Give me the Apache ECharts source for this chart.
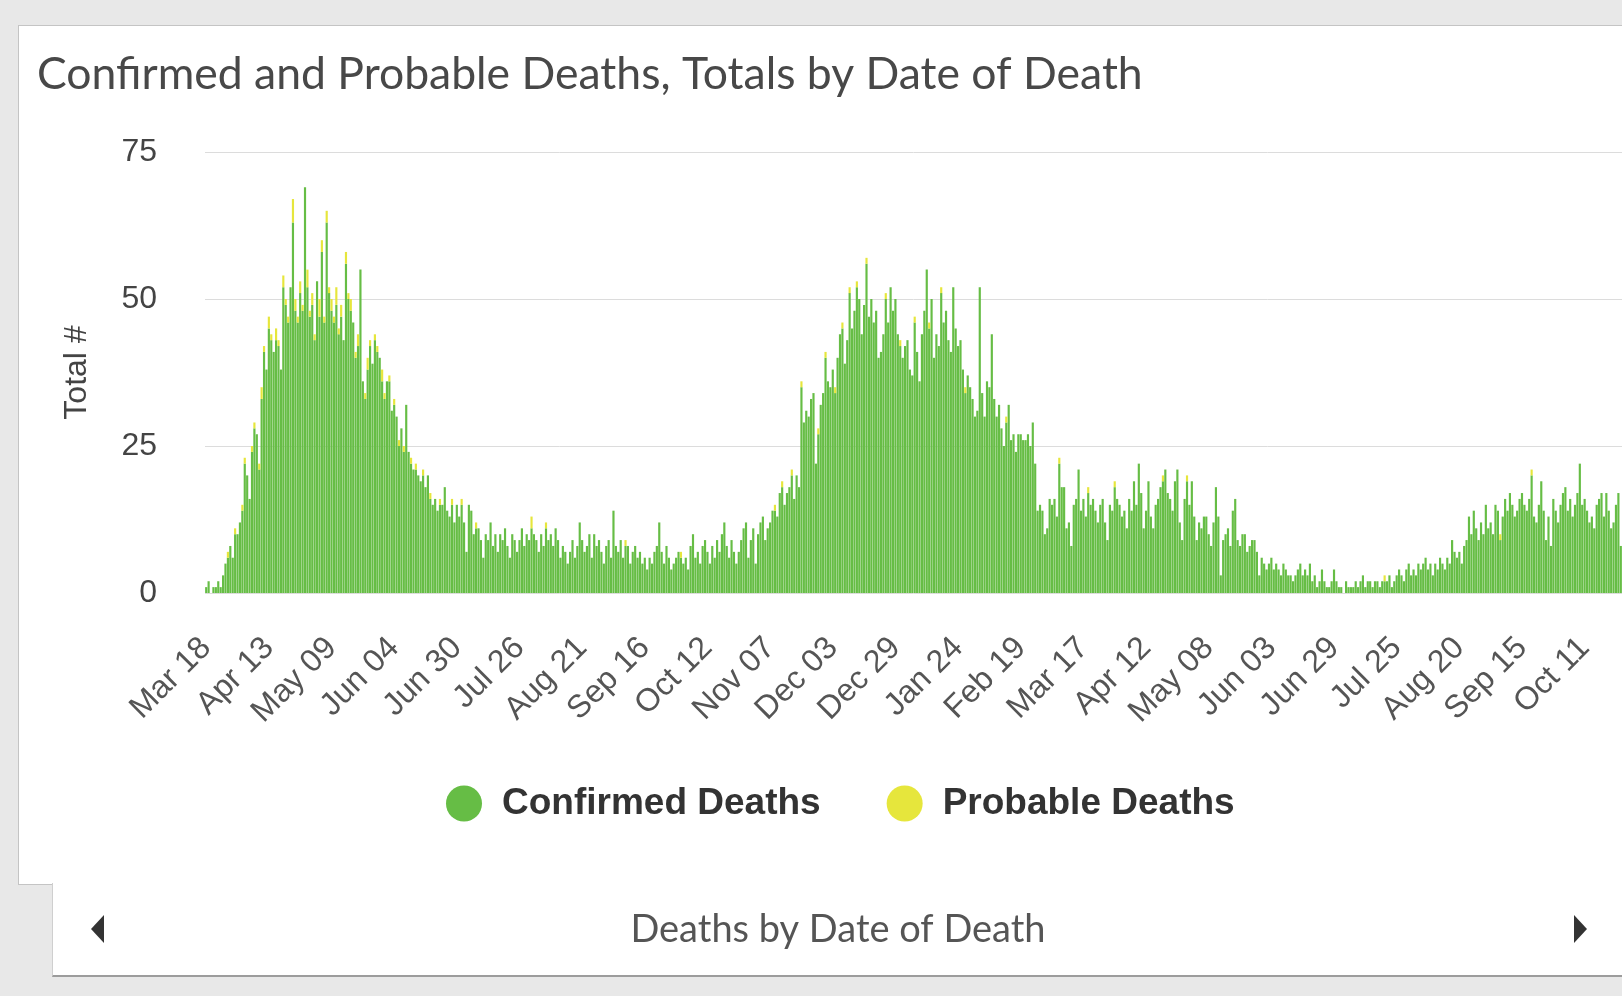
<!DOCTYPE html>
<html>
<head>
<meta charset="utf-8">
<title>Confirmed and Probable Deaths</title>
<script src="https://cdn.jsdelivr.net/npm/echarts@6/dist/echarts.min.js"></script>
<style>
  html, body { margin: 0; padding: 0; width: 1622px; height: 996px; overflow: hidden; background: #e8e8e8; }
  .panel { position: absolute; left: 18px; top: 25px; width: 1700px; height: 858px; background: #fff; border: 1px solid #c4c4c4; }
  .tab { position: absolute; left: 52px; top: 883px; width: 1700px; height: 92px; background: #fff; border-left: 1px solid #cfcfcf; border-bottom: 2px solid #9c9c9c; }
  #chart { position: absolute; left: 0; top: 0; width: 1622px; height: 996px; }
</style>
</head>
<body>
<div class="panel"></div>
<div class="tab"></div>
<div id="chart"></div>
<script>
  // daily counts starting Mar 18 2020, one row per 26 days (one row per axis label)
  const startDate = [2020, 2, 18]
  const confirmed = [
    1, 2, 0, 1, 1, 2, 1, 3, 5, 6, 8, 6, 10, 10, 12, 14, 22, 20, 16, 24, 28, 27, 21, 33, 41, 38,
    45, 43, 41, 43, 42, 38, 52, 49, 46, 52, 63, 48, 46, 51, 48, 69, 52, 47, 49, 43, 53, 47, 58, 46, 63, 51,
    48, 46, 49, 44, 47, 43, 56, 50, 48, 46, 40, 42, 55, 36, 33, 38, 42, 39, 43, 41, 40, 36, 33, 36, 36, 31,
    32, 30, 25, 28, 24, 32, 24, 22, 21, 21, 20, 19, 20, 18, 20, 16, 15, 16, 14, 15, 15, 18, 14, 13, 15, 12,
    15, 13, 15, 12, 7, 15, 14, 10, 11, 11, 9, 6, 10, 9, 12, 8, 10, 7, 10, 9, 11, 8, 6, 10, 9, 7,
    9, 11, 8, 10, 9, 11, 10, 9, 7, 10, 8, 11, 9, 10, 8, 11, 9, 6, 8, 7, 5, 7, 9, 6, 8, 12,
    9, 7, 8, 10, 6, 10, 8, 9, 7, 5, 8, 9, 6, 14, 8, 7, 9, 6, 8, 8, 5, 7, 8, 6, 7, 5,
    6, 4, 6, 5, 7, 8, 12, 7, 5, 8, 6, 4, 5, 6, 7, 6, 5, 6, 4, 8, 10, 6, 7, 5, 8, 9,
    7, 5, 8, 6, 9, 7, 10, 12, 8, 6, 9, 7, 5, 7, 9, 11, 12, 6, 9, 11, 5, 10, 12, 13, 9, 11,
    12, 14, 14, 13, 17, 18, 15, 17, 18, 20, 16, 20, 18, 35, 29, 31, 30, 33, 34, 22, 27, 32, 34, 40, 36, 35,
    38, 34, 40, 44, 45, 39, 43, 51, 45, 48, 52, 50, 44, 49, 56, 47, 50, 46, 48, 40, 41, 44, 50, 46, 52, 48,
    50, 44, 42, 40, 42, 43, 38, 37, 46, 41, 36, 44, 48, 55, 45, 50, 40, 44, 42, 51, 46, 48, 43, 41, 52, 45,
    42, 43, 38, 34, 37, 35, 33, 30, 31, 52, 34, 30, 36, 35, 44, 33, 30, 32, 28, 25, 29, 32, 26, 27, 24, 27,
    27, 26, 26, 27, 25, 29, 22, 14, 15, 14, 10, 11, 16, 15, 16, 13, 22, 18, 18, 11, 12, 8, 15, 16, 21, 14,
    16, 13, 17, 15, 16, 14, 12, 15, 16, 12, 9, 15, 14, 18, 16, 15, 13, 14, 11, 16, 14, 19, 15, 22, 17, 11,
    14, 19, 13, 11, 15, 16, 18, 19, 21, 17, 16, 14, 19, 21, 12, 9, 16, 19, 15, 19, 13, 9, 12, 11, 13, 13,
    10, 8, 12, 18, 13, 3, 9, 10, 11, 8, 14, 16, 9, 8, 10, 10, 7, 8, 9, 9, 7, 3, 6, 5, 4, 5,
    6, 4, 5, 4, 3, 5, 4, 3, 3, 2, 3, 4, 5, 3, 4, 3, 5, 2, 3, 1, 2, 4, 2, 1, 1, 2,
    4, 2, 1, 1, 0, 2, 1, 1, 1, 2, 1, 2, 3, 1, 2, 2, 1, 2, 2, 1, 2, 2, 2, 3, 1, 2,
    3, 4, 3, 2, 4, 5, 3, 4, 3, 5, 4, 5, 6, 4, 5, 3, 5, 4, 6, 5, 4, 6, 5, 9, 7, 6,
    7, 5, 8, 9, 13, 10, 14, 11, 9, 12, 10, 15, 11, 12, 10, 15, 14, 9, 13, 16, 14, 17, 15, 13, 14, 16,
    17, 15, 14, 16, 20, 13, 12, 15, 19, 14, 9, 13, 8, 16, 14, 12, 15, 17, 18, 14, 16, 13, 15, 17, 22, 15,
    16, 14, 12, 13, 11, 15, 16, 17, 13, 17, 14, 11, 12, 15, 17, 8
  ]
  const probable = [
    0, 0, 0, 0, 0, 0, 0, 0, 0, 1, 0, 0, 1, 0, 0, 1, 1, 0, 0, 1, 1, 0, 1, 2, 1, 0,
    2, 1, 0, 2, 1, 0, 2, 1, 1, 0, 4, 2, 1, 2, 1, 0, 3, 1, 2, 1, 0, 3, 2, 1, 2, 1,
    2, 1, 3, 1, 2, 0, 2, 1, 2, 0, 1, 2, 0, 0, 1, 2, 1, 0, 1, 1, 0, 2, 1, 0, 1, 0,
    1, 0, 1, 0, 1, 0, 0, 1, 0, 1, 0, 0, 1, 0, 0, 1, 0, 0, 0, 1, 0, 0, 0, 0, 1, 0,
    0, 0, 1, 0, 0, 0, 0, 0, 1, 0, 0, 0, 0, 0, 0, 0, 0, 0, 0, 0, 0, 0, 0, 0, 0, 0,
    0, 0, 0, 0, 0, 2, 0, 0, 0, 0, 0, 1, 0, 0, 0, 0, 0, 0, 0, 0, 0, 0, 0, 0, 0, 0,
    0, 0, 0, 0, 0, 0, 0, 0, 0, 0, 0, 0, 0, 0, 0, 0, 0, 0, 1, 0, 0, 0, 0, 0, 0, 0,
    0, 0, 0, 0, 0, 0, 0, 0, 0, 0, 0, 0, 0, 0, 0, 1, 0, 0, 0, 0, 0, 0, 0, 0, 0, 0,
    0, 0, 0, 0, 0, 0, 0, 0, 0, 0, 0, 0, 0, 0, 0, 0, 0, 0, 0, 0, 0, 0, 0, 0, 0, 0,
    0, 0, 1, 0, 0, 1, 0, 0, 0, 1, 0, 0, 0, 1, 0, 0, 0, 0, 0, 0, 1, 0, 0, 1, 0, 0,
    0, 1, 0, 0, 1, 0, 0, 1, 0, 0, 1, 0, 0, 0, 1, 0, 0, 0, 0, 0, 0, 0, 1, 0, 0, 0,
    0, 0, 1, 0, 0, 0, 0, 0, 1, 0, 0, 0, 0, 0, 1, 0, 0, 0, 0, 1, 0, 0, 0, 0, 0, 0,
    0, 0, 0, 1, 0, 0, 0, 0, 0, 0, 0, 0, 0, 0, 0, 0, 0, 0, 0, 0, 1, 0, 0, 0, 0, 0,
    0, 0, 0, 0, 0, 0, 0, 0, 0, 0, 0, 0, 0, 0, 0, 0, 1, 0, 0, 0, 0, 0, 0, 0, 0, 0,
    0, 0, 1, 0, 0, 0, 0, 0, 0, 0, 0, 0, 0, 1, 0, 0, 0, 0, 0, 0, 0, 0, 0, 0, 0, 0,
    0, 0, 0, 0, 0, 0, 0, 1, 0, 0, 0, 0, 0, 0, 0, 0, 0, 1, 0, 0, 0, 0, 0, 0, 0, 0,
    0, 0, 0, 0, 0, 0, 0, 0, 0, 0, 0, 0, 0, 0, 0, 0, 0, 0, 0, 0, 0, 0, 0, 0, 0, 0,
    0, 0, 0, 0, 0, 0, 0, 0, 0, 0, 0, 0, 0, 0, 0, 0, 0, 0, 0, 0, 0, 0, 0, 0, 0, 0,
    0, 0, 0, 0, 0, 0, 0, 0, 0, 0, 0, 0, 0, 0, 0, 0, 0, 0, 0, 0, 0, 1, 0, 0, 0, 0,
    0, 0, 0, 0, 0, 0, 0, 0, 0, 0, 0, 0, 0, 0, 0, 0, 0, 0, 0, 0, 0, 0, 0, 0, 0, 0,
    0, 0, 0, 0, 0, 0, 0, 0, 0, 0, 0, 0, 0, 0, 0, 0, 0, 1, 0, 0, 0, 0, 0, 0, 0, 0,
    0, 0, 0, 0, 1, 0, 0, 0, 0, 0, 0, 0, 0, 0, 0, 0, 0, 0, 0, 0, 0, 0, 0, 0, 0, 0,
    0, 0, 0, 0, 0, 0, 0, 0, 0, 0, 0, 0, 0, 0, 0, 0
  ]
  const yTicks = [0, 25, 50, 75]
  const monthNames = ['Jan', 'Feb', 'Mar', 'Apr', 'May', 'Jun', 'Jul', 'Aug', 'Sep', 'Oct', 'Nov', 'Dec']

  // category labels: one per day
  const dates = confirmed.map(function (v, i) {
    const d = new Date(Date.UTC(startDate[0], startDate[1], startDate[2] + i))
    return monthNames[d.getUTCMonth()] + ' ' + String(d.getUTCDate()).padStart(2, '0')
  })

  const chart = echarts.init(document.getElementById('chart'))
  chart.setOption({
    animation: false,
    title: {
      text: 'Confirmed and Probable Deaths, Totals by Date of Death',
      left: 37,
      top: 52,
      padding: 0,
      textStyle: { fontFamily: 'Lato', fontWeight: 'normal', fontSize: 44.5, color: '#484848' }
    },
    legend: {
      left: 441,
      top: 780,
      itemWidth: 66,
      itemHeight: 36,
      itemGap: 66,
      icon: 'circle',
      textStyle: { fontFamily: 'Liberation Sans', fontWeight: 'bold', fontSize: 37, color: '#333' },
      data: ['Confirmed Deaths', 'Probable Deaths']
    },
    grid: { left: 205, right: 0, top: 152, bottom: 403 },
    xAxis: {
      type: 'category',
      data: dates,
      axisLine: { show: false },
      axisTick: { show: false },
      axisLabel: {
        interval: 25,
        rotate: 45,
        margin: 50,
        fontFamily: 'Liberation Sans',
        fontSize: 32,
        color: '#555'
      }
    },
    yAxis: {
      type: 'value',
      min: yTicks[0],
      max: yTicks[yTicks.length - 1],
      interval: 25,
      name: 'Total #',
      nameLocation: 'middle',
      nameGap: 112,
      nameTextStyle: { fontFamily: 'Liberation Sans', fontSize: 32, color: '#444' },
      axisLabel: { margin: 48, fontFamily: 'Liberation Sans', fontSize: 32, color: '#444' },
      splitLine: { lineStyle: { color: '#dcdcdc', width: 1 } }
    },
    color: ['#66bd45', '#e6e63c'],
    series: [
      {
        name: 'Confirmed Deaths',
        type: 'bar',
        stack: 'deaths',
        barCategoryGap: '10%',
        data: confirmed
      },
      {
        name: 'Probable Deaths',
        type: 'bar',
        stack: 'deaths',
        data: probable
      }
    ],
    graphic: [
      {
        type: 'text',
        style: {
          text: 'Deaths by Date of Death',
          x: 838,
          y: 930,
          textAlign: 'center',
          textVerticalAlign: 'middle',
          fontFamily: 'Lato',
          fontSize: 38,
          fill: '#555'
        }
      },
      { type: 'polygon', shape: { points: [[104, 915], [104, 943], [91, 929]] }, style: { fill: '#333' } },
      { type: 'polygon', shape: { points: [[1574, 915], [1574, 943], [1587, 929]] }, style: { fill: '#333' } }
    ]
  })
</script>
</body>
</html>
